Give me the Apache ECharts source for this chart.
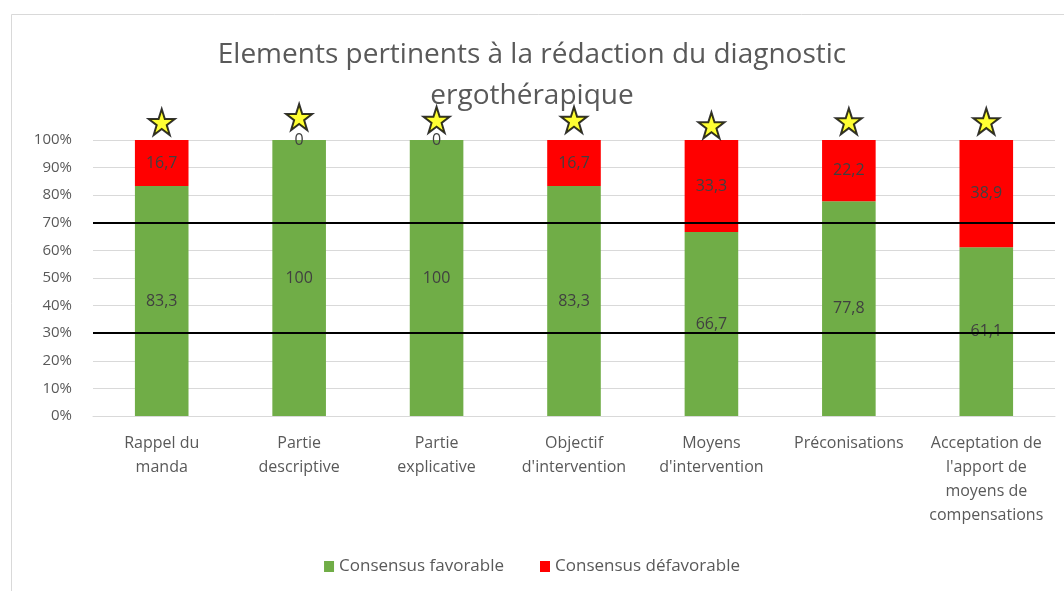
<!DOCTYPE html>
<html>
<head>
<meta charset="utf-8">
<script src="https://cdn.jsdelivr.net/npm/echarts@6/dist/echarts.min.js"></script>
<style>
  html, body { margin: 0; padding: 0; background: #fff; }
  #main { width: 1064px; height: 591px; }
</style>
</head>
<body>
<div id="main"></div>
<script>
// données
var categories = ['Rappel du\nmanda', 'Partie\ndescriptive', 'Partie\nexplicative',
    'Objectif\nd\'intervention', 'Moyens\nd\'intervention', 'Préconisations',
    'Acceptation de\nl\'apport de\nmoyens de\ncompensations'];
var favorable = [83.3, 100, 100, 83.3, 66.7, 77.8, 61.1];
var defavorable = [16.7, 0, 0, 16.7, 33.3, 22.2, 38.9];
var stars = [106.5, 108.3, 107.3, 107.3, 105.3, 106.8, 106.8];
var seuils = [70, 30];
var yTicks = [0, 10, 20, 30, 40, 50, 60, 70, 80, 90, 100];

var starPath = 'path://M50,0 L61.8,35.3 L99,35.3 L69,57.2 L80.3,92.5 L50,70.7 L19.7,92.5 L31,57.2 L1,35.3 L38.2,35.3 Z';
var font = 'Open Sans';

function virgule(p) {
    return String(p.value).replace('.', ',');
}

var myChart = echarts.init(document.getElementById('main'));

option = {
    backgroundColor: '#fff',
    textStyle: { fontFamily: font },
    graphic: [{
        type: 'rect',
        shape: { x: 11.5, y: 14.5, width: 1100, height: 600 },
        style: { fill: 'none', stroke: '#d9d9d9', lineWidth: 1 },
        z: -10
    }],
    title: {
        text: 'Elements pertinents à la rédaction du diagnostic\nergothérapique',
        left: 'center',
        top: 30,
        textStyle: { fontFamily: font, fontSize: 28, fontWeight: 'normal', color: '#595959', lineHeight: 41 }
    },
    legend: {
        data: ['Consensus favorable', 'Consensus défavorable'],
        bottom: 11,
        left: 'center',
        itemWidth: 10,
        itemHeight: 11,
        itemGap: 36,
        icon: 'rect',
        textStyle: { fontFamily: font, fontSize: 17, color: '#595959' }
    },
    grid: { left: 93, right: 9, top: 140, bottom: 175 },
    xAxis: {
        type: 'category',
        data: categories,
        axisLine: { show: true, lineStyle: { color: '#d9d9d9' } },
        axisTick: { show: false },
        axisLabel: { interval: 0, fontFamily: font, fontSize: 16, color: '#595959', lineHeight: 24, margin: 15 }
    },
    yAxis: {
        type: 'value',
        min: 0,
        max: 100,
        interval: 10,
        axisLabel: { formatter: '{value}%', fontFamily: font, fontSize: 15, color: '#595959', margin: 21 },
        splitLine: { lineStyle: { color: '#d9d9d9', width: 1 } },
        axisLine: { show: false },
        axisTick: { show: false }
    },
    series: [{
        name: 'Consensus favorable',
        type: 'bar',
        stack: 'total',
        barWidth: '39%',
        data: favorable,
        itemStyle: { color: '#70ad47' },
        label: { show: true, position: 'inside', formatter: virgule, color: '#404040', fontSize: 16, fontFamily: font },
        markLine: {
            silent: true,
            symbol: 'none',
            label: { show: false },
            lineStyle: { color: '#000', width: 2, type: 'solid' },
            data: seuils.map(function (v) { return { yAxis: v }; })
        }
    }, {
        name: 'Consensus défavorable',
        type: 'bar',
        stack: 'total',
        barWidth: '39%',
        data: defavorable,
        itemStyle: { color: '#ff0000' },
        label: {
            show: true, position: 'inside', formatter: virgule, color: '#404040', fontSize: 16, fontFamily: font
        }
    }, {
        name: 'etoiles',
        type: 'scatter',
        data: stars,
        clip: false,
        symbol: starPath,
        symbolSize: 26,
        itemStyle: { color: '#ffff00', borderColor: '#000', borderWidth: 2 },
        z: 5
    }]
};

myChart.setOption(option);
</script>
</body>
</html>
